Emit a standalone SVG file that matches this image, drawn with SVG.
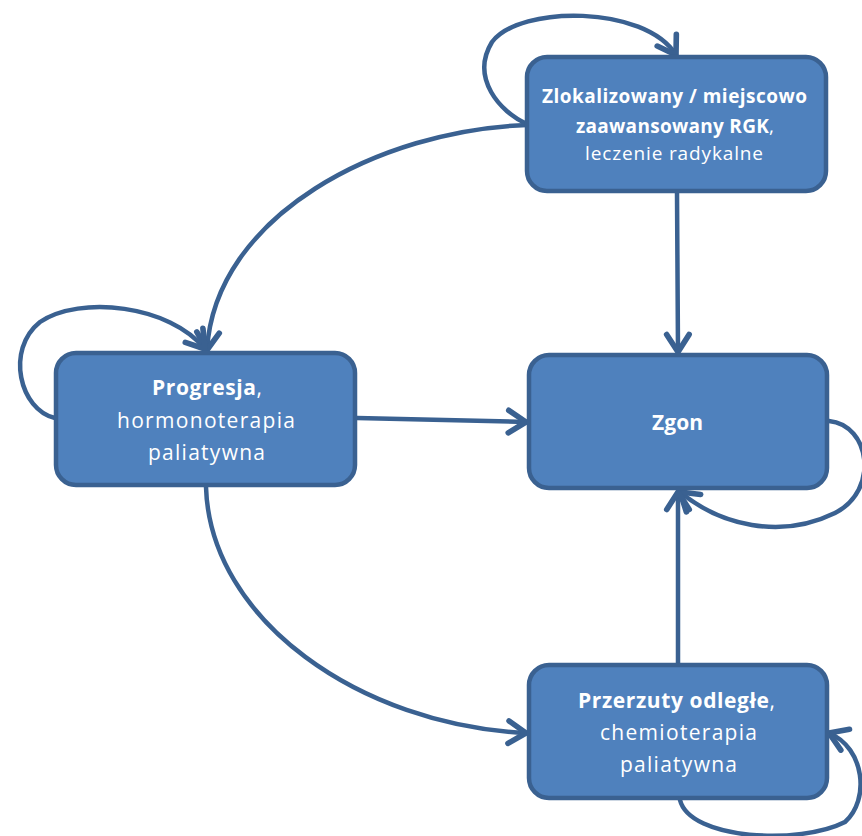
<svg xmlns="http://www.w3.org/2000/svg" width="862" height="836" viewBox="0 0 862 836">
<style>
.box{fill:#4F81BD;stroke:#3A6191;stroke-width:4.5}
.t{font-family:"Open Sans","Liberation Sans",sans-serif;fill:#FFFFFF}
.b{font-weight:bold}
.c{fill:none;stroke:#3A6191;stroke-width:4.5;stroke-linecap:round}
</style>
<defs>
<marker id="arr" markerUnits="userSpaceOnUse" markerWidth="30" markerHeight="30" refX="0" refY="0" viewBox="-18 -12 22 24" orient="auto">
<path d="M-14,-9 L0,0 L-14,9" fill="none" stroke="#3A6191" stroke-width="4.5" stroke-linecap="round" stroke-linejoin="round"/>
</marker>
</defs>
<rect width="862" height="836" fill="#FFFFFF"/>
<g id="connectors">
<path class="c" d="M527,124 C500,112 470,78 492,42 C520,5 645,5 676,55" marker-end="url(#arr)"/>
<path class="c" d="M527,125 C380,130 215,215 207,350" marker-end="url(#arr)"/>
<path class="c" d="M55,418 C20,410 5,350 40,322 C80,295 170,305 205,349" marker-end="url(#arr)"/>
<path class="c" d="M357,418 L526,422" marker-end="url(#arr)"/>
<path class="c" d="M677,192 L678,352" marker-end="url(#arr)"/>
<path class="c" d="M829,421 C870,425 880,490 835,513 C780,540 720,525 680,492" marker-end="url(#arr)"/>
<path class="c" d="M678,664 L678,492" marker-end="url(#arr)"/>
<path class="c" d="M206,487 C210,620 360,725 526,733" marker-end="url(#arr)"/>
<path class="c" d="M680,800 C690,840 800,845 845,822 C870,800 865,748 829,733" marker-end="url(#arr)"/>
</g>
<g id="node-zlokalizowany">
<rect class="box" x="527" y="57" width="299" height="134" rx="20" ry="20"/>
<text class="t b" x="542" y="103" font-size="19" textLength="265">Zlokalizowany / miejscowo</text>
<text class="t" x="576" y="133" font-size="19" textLength="198"><tspan class="b">zaawansowany RGK</tspan>,</text>
<text class="t" x="585" y="160" font-size="19" textLength="178">leczenie radykalne</text>
</g>
<g id="node-progresja">
<rect class="box" x="56" y="353" width="299" height="132" rx="20" ry="20"/>
<text class="t" x="152" y="395" font-size="21" textLength="110"><tspan class="b">Progresja</tspan>,</text>
<text class="t" x="117" y="428" font-size="21" textLength="178">hormonoterapia</text>
<text class="t" x="148" y="460" font-size="21" textLength="117">paliatywna</text>
</g>
<g id="node-zgon">
<rect class="box" x="529" y="355" width="298" height="133" rx="20" ry="20"/>
<text class="t b" x="652" y="430" font-size="21" textLength="51">Zgon</text>
</g>
<g id="node-przerzuty">
<rect class="box" x="529" y="665" width="298" height="133" rx="20" ry="20"/>
<text class="t" x="578" y="708" font-size="21" textLength="197"><tspan class="b">Przerzuty odległe</tspan>,</text>
<text class="t" x="600" y="740" font-size="21" textLength="157">chemioterapia</text>
<text class="t" x="620" y="772" font-size="21" textLength="117">paliatywna</text>
</g>
</svg>
